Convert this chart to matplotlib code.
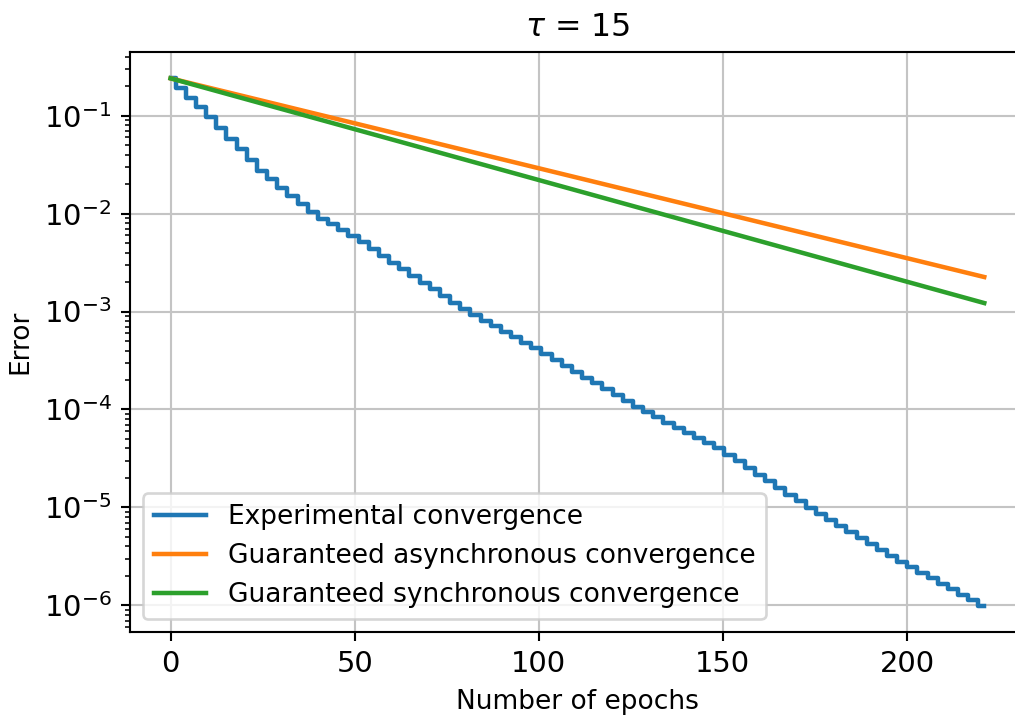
import numpy as np
import matplotlib
matplotlib.use("Agg")
import matplotlib.pyplot as plt

# ---------------------------------------
# Data
# ---------------------------------------
tau = 15

# experimental error, one level per step (log10 values), steps every ~2.76 epochs
step_epochs = np.arange(81) * 2.76
exp_log_err = [
    -0.620, -0.719, -0.818, -0.917, -1.017, -1.127, -1.236, -1.345, -1.454, -1.564,
    -1.650, -1.735, -1.819, -1.904, -1.989, -2.051, -2.110, -2.169, -2.228, -2.295,
    -2.363, -2.431, -2.500, -2.568, -2.636, -2.704, -2.772, -2.840, -2.908, -2.976,
    -3.037, -3.094, -3.150, -3.207, -3.264, -3.320, -3.377, -3.436, -3.495, -3.555,
    -3.614, -3.674, -3.733, -3.793, -3.852, -3.912, -3.971, -4.027, -4.080, -4.133,
    -4.186, -4.239, -4.292, -4.345, -4.398, -4.461, -4.529, -4.597, -4.666, -4.734,
    -4.802, -4.870, -4.939, -5.006, -5.067, -5.127, -5.188, -5.249, -5.309, -5.370,
    -5.431, -5.491, -5.552, -5.610, -5.666, -5.722, -5.778, -5.834, -5.890, -5.946,
    -6.002,
]
exp_err = 10.0 ** np.array(exp_log_err)

# guaranteed bounds (straight lines on the log axis)
bound_epochs = [0, 221]
async_err = [0.24, 2.25e-3]
sync_err = [0.24, 1.22e-3]

# ---------------------------------------
# Plot
# ---------------------------------------
DPI = 190
fig = plt.figure(figsize=(1015 / DPI, 718 / DPI), dpi=DPI)
ax = fig.add_axes([0.128, 0.1198, 0.8818, 0.8078])

ax.plot(step_epochs, exp_err, drawstyle="steps-mid", lw=1.7, label="Experimental convergence")
ax.plot(bound_epochs, async_err, lw=1.7, label="Guaranteed asynchronous convergence")
ax.plot(bound_epochs, sync_err, lw=1.7, label="Guaranteed synchronous convergence")

ax.set_yscale("log")
ax.grid(True, color="#c4c4c4")
ax.tick_params(axis="both", which="major", labelsize=11)
ax.set_xlabel("Number of epochs")
ax.set_ylabel("Error")
ax.set_title(r"$\tau$ = %d" % tau)
ax.legend(loc="lower left")

fig.savefig("out.png", dpi=DPI)
